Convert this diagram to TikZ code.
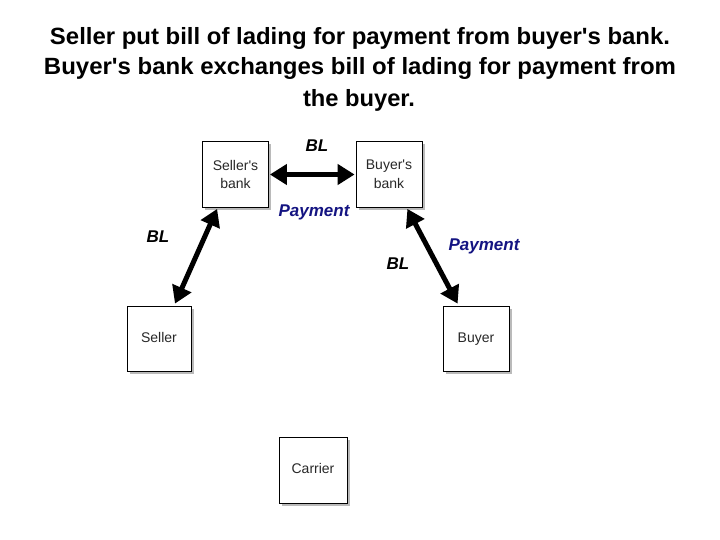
\documentclass[tikz,border=0pt]{standalone}
\usepackage{fontspec}
\setmainfont{Liberation Sans}[Ligatures=TeXOff]
\usetikzlibrary{shadows,calc,arrows.meta}
\definecolor{navyblue}{RGB}{20,20,130}
\definecolor{boxtext}{RGB}{40,40,40}
\begin{document}
\begin{tikzpicture}[x=1pt,y=-1pt,
  party/.style={draw=black,line width=0.8pt,fill=white,
    drop shadow={shadow xshift=2.5pt,shadow yshift=-2.5pt,fill=black!45,opacity=0.6},
    inner sep=0pt,align=center,text=boxtext,font=\fontsize{14}{18.5}\selectfont},
  single/.style={text height=10pt,text depth=3pt},
  flow/.style={line width=5pt,{Triangle[length=17pt,width=20pt]}-{Triangle[length=17pt,width=20pt]}},
  lbl/.style={font=\fontsize{17}{20}\selectfont\bfseries\itshape,inner sep=0pt},
  titleline/.style={font=\fontsize{23.5}{26}\selectfont\bfseries,inner sep=0pt,anchor=base}]
\useasboundingbox[fill=white] (0,0) rectangle (720,540);
% title
\node[titleline] (t1) at (360,45) {\resizebox{620pt}{\height}{Seller put bill of lading for payment from buyer's bank.}};
\node[titleline] (t2) at (360,74.5) {\resizebox{632pt}{\height}{Buyer's bank exchanges bill of lading for payment from}};
\node[titleline] (t3) at (359,107) {\resizebox{112pt}{\height}{the buyer.}};
% boxes
\node[party,minimum width=66pt,minimum height=66pt] (sbank) at (235.5,174.5) {Seller's\\bank};
\node[party,minimum width=66pt,minimum height=66pt] (bbank) at (389,174.5) {Buyer's\\bank};
\node[party,single,minimum width=64pt,minimum height=65pt] (seller) at (159,338.5) {Seller};
\node[party,single,minimum width=66pt,minimum height=65pt] (buyer) at (476,338.5) {Buyer};
\node[party,single,minimum width=68pt,minimum height=66pt] (carrier) at (313,470) {Carrier};
% connectors
\draw[flow] ($(sbank.east)+(1,0)$) -- ($(bbank.west)+(-1,0)$);
\draw[flow] ($(sbank.south west)+(15,1)$) -- ($(seller.north)+(16,-2)$);
\draw[flow] ($(bbank.south east)+(-15,1)$) -- ($(buyer.north west)+(15,-2)$);
% labels
\node[lbl] (l1) at (317,146) {BL};
\node[lbl,text=navyblue] (l2) at (314,212) {Payment};
\node[lbl] (l3) at (158,237) {BL};
\node[lbl,text=navyblue] (l4) at (484,246) {Payment};
\node[lbl] (l5) at (398,264) {BL};
\end{tikzpicture}
\end{document}
